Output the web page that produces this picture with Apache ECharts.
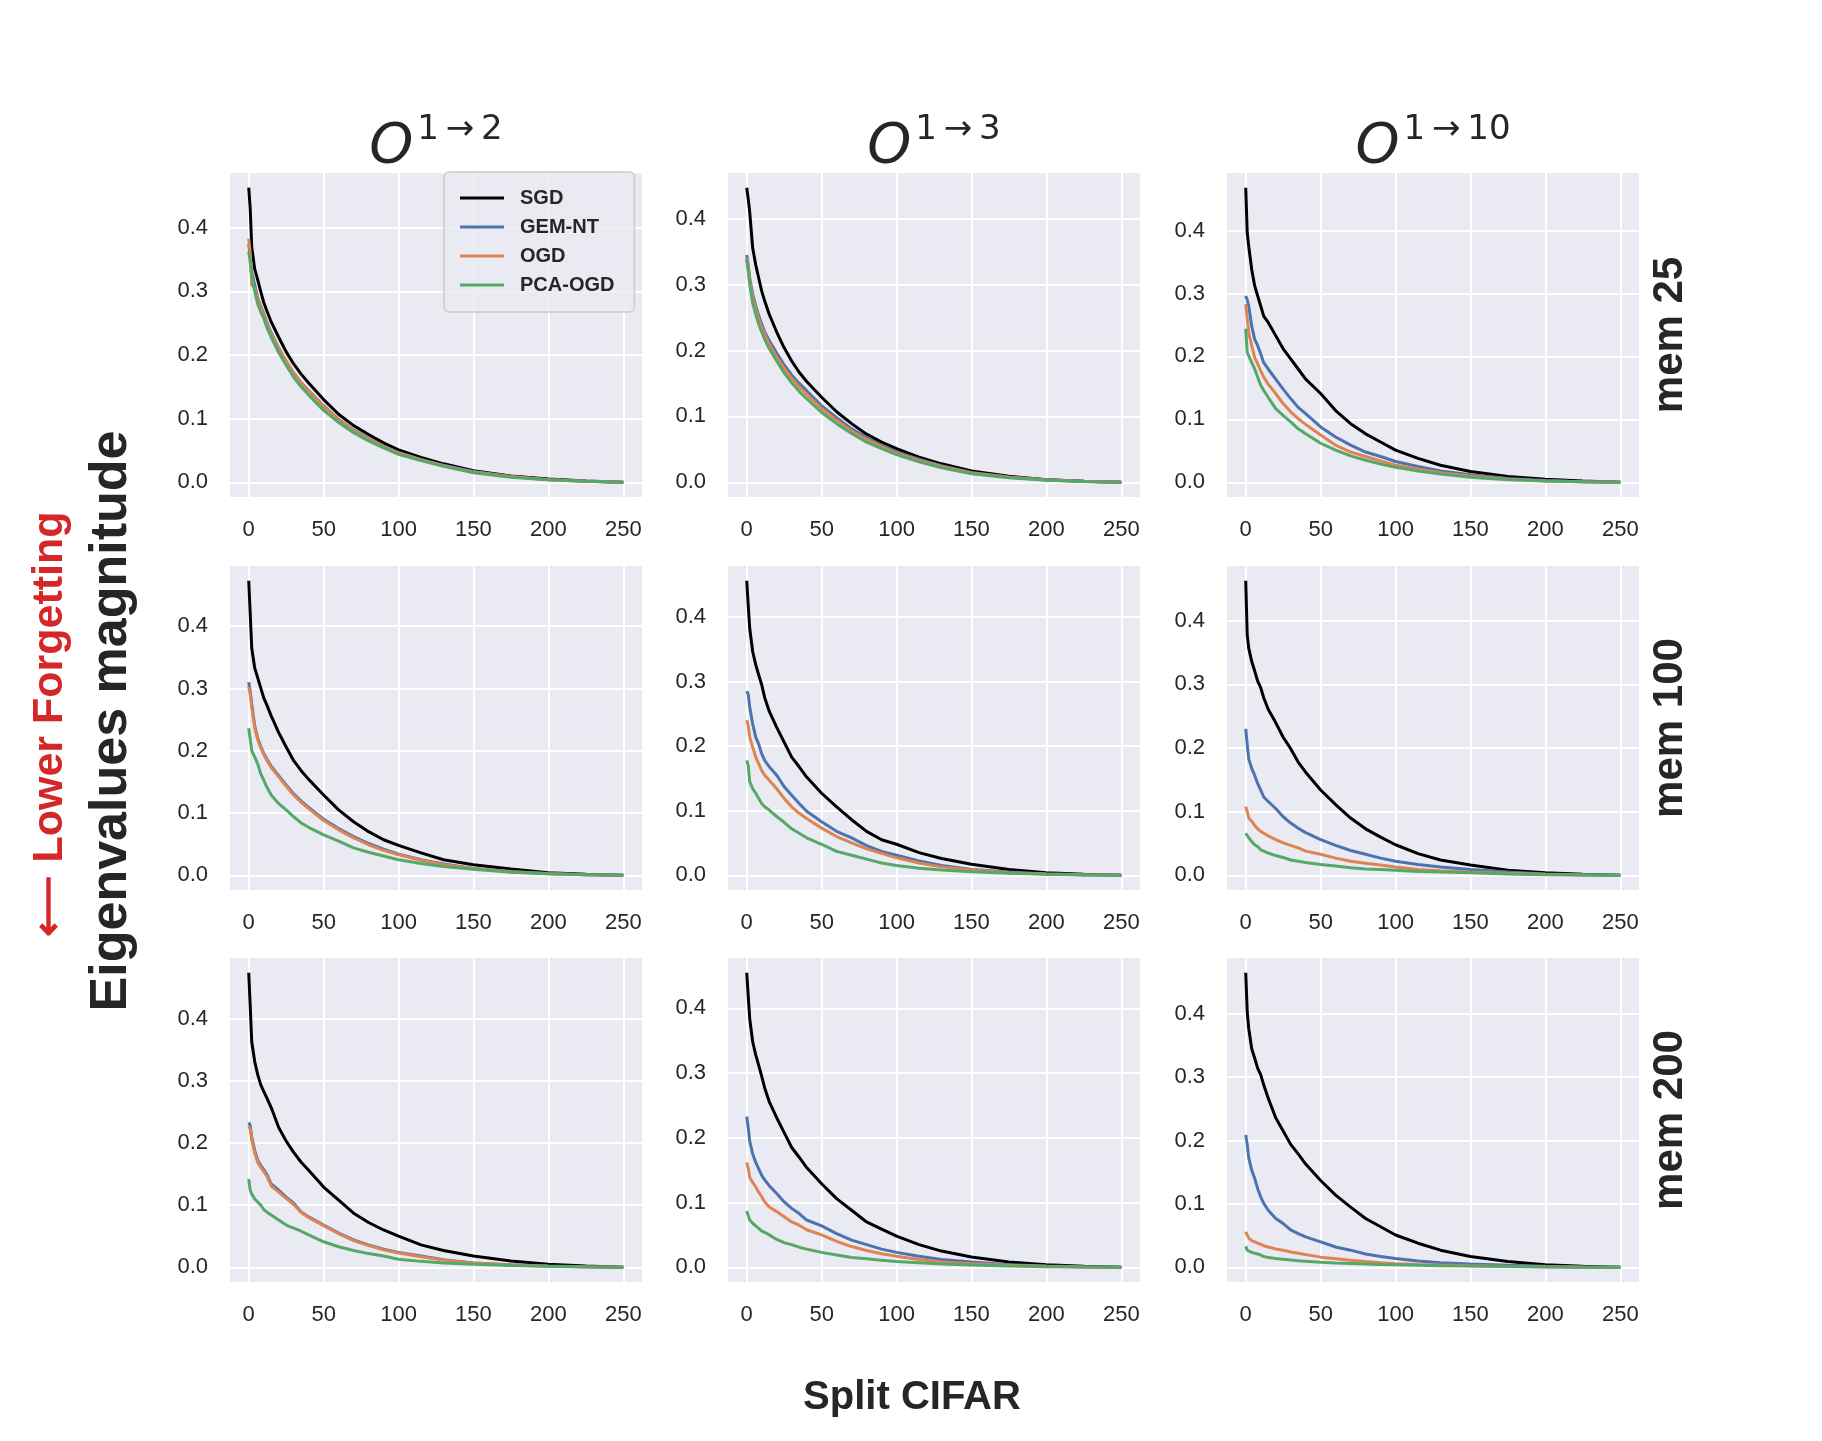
<!DOCTYPE html>
<html>
<head>
<meta charset="utf-8">
<script src="https://cdn.jsdelivr.net/npm/echarts@6.0.0/dist/echarts.min.js"></script>
<style>
html, body { margin: 0; padding: 0; background: #ffffff; }
#main { width: 1822px; height: 1441px; }
</style>
</head>
<body>
<div id="main"></div>
<script>
var steps = [0, 1, 2, 4, 6, 8, 10, 12, 15, 20, 25, 30, 35, 40, 50, 60, 70, 80, 90, 100, 115, 130, 150, 175, 200, 225, 250];

var seriesNames = ['SGD', 'GEM-NT', 'OGD', 'PCA-OGD'];
var seriesColors = ['#000000', '#4c72b0', '#dd8452', '#55a868'];
var colTitles = ['1\u2009→\u20092', '1\u2009→\u20093', '1\u2009→\u200910'];
var rowLabels = ['mem 25', 'mem 100', 'mem 200'];
var xTicks = [0, 50, 100, 150, 200, 250];
var yTicks = [0, 0.1, 0.2, 0.3, 0.4];

// mem 25
var m25_o2_sgd = [0.463, 0.43, 0.37, 0.335, 0.318, 0.3, 0.283, 0.27, 0.252, 0.228, 0.205, 0.186, 0.17, 0.156, 0.13, 0.107, 0.089, 0.075, 0.062, 0.051, 0.039, 0.029, 0.018, 0.01, 0.005, 0.002, 0];
var m25_o2_gem = [0.375, 0.355, 0.33, 0.31, 0.29, 0.277, 0.265, 0.252, 0.235, 0.211, 0.19, 0.172, 0.157, 0.144, 0.12, 0.099, 0.082, 0.069, 0.057, 0.047, 0.036, 0.027, 0.017, 0.009, 0.004, 0.0015, 0];
var m25_o2_ogd = [0.383, 0.36, 0.31, 0.305, 0.288, 0.275, 0.263, 0.25, 0.233, 0.21, 0.19, 0.171, 0.156, 0.143, 0.119, 0.098, 0.081, 0.068, 0.056, 0.046, 0.035, 0.026, 0.016, 0.009, 0.004, 0.0015, 0];
var m25_o2_pca = [0.363, 0.345, 0.325, 0.3, 0.28, 0.268, 0.258, 0.244, 0.228, 0.204, 0.184, 0.165, 0.15, 0.137, 0.113, 0.094, 0.078, 0.065, 0.054, 0.044, 0.034, 0.025, 0.015, 0.008, 0.004, 0.0015, 0];

var m25_o3_sgd = [0.447, 0.43, 0.41, 0.355, 0.33, 0.31, 0.29, 0.275, 0.255, 0.228, 0.204, 0.184, 0.167, 0.153, 0.129, 0.107, 0.089, 0.073, 0.061, 0.051, 0.038, 0.028, 0.017, 0.009, 0.004, 0.0015, 0];
var m25_o3_gem = [0.345, 0.33, 0.31, 0.285, 0.268, 0.253, 0.24, 0.228, 0.215, 0.196, 0.178, 0.163, 0.15, 0.139, 0.116, 0.098, 0.081, 0.068, 0.056, 0.046, 0.035, 0.025, 0.015, 0.008, 0.004, 0.0015, 0];
var m25_o3_ogd = [0.34, 0.325, 0.305, 0.28, 0.263, 0.248, 0.235, 0.224, 0.21, 0.19, 0.173, 0.158, 0.145, 0.134, 0.112, 0.094, 0.078, 0.065, 0.054, 0.044, 0.033, 0.024, 0.014, 0.0075, 0.0035, 0.0013, 0];
var m25_o3_pca = [0.338, 0.32, 0.3, 0.272, 0.255, 0.24, 0.228, 0.217, 0.203, 0.184, 0.166, 0.151, 0.138, 0.127, 0.106, 0.089, 0.074, 0.061, 0.051, 0.042, 0.031, 0.022, 0.013, 0.007, 0.003, 0.001, 0];

var m25_o10_sgd = [0.468, 0.396, 0.375, 0.338, 0.312, 0.296, 0.28, 0.264, 0.254, 0.233, 0.212, 0.196, 0.18, 0.164, 0.141, 0.114, 0.093, 0.077, 0.064, 0.051, 0.038, 0.027, 0.017, 0.009, 0.005, 0.002, 0];
var m25_o10_gem = [0.296, 0.29, 0.28, 0.248, 0.227, 0.217, 0.204, 0.19, 0.18, 0.164, 0.148, 0.133, 0.119, 0.109, 0.088, 0.072, 0.059, 0.048, 0.041, 0.033, 0.025, 0.018, 0.012, 0.006, 0.003, 0.001, 0];
var m25_o10_ogd = [0.283, 0.26, 0.238, 0.217, 0.198, 0.188, 0.177, 0.167, 0.156, 0.141, 0.125, 0.112, 0.101, 0.092, 0.075, 0.059, 0.048, 0.041, 0.034, 0.027, 0.021, 0.015, 0.01, 0.005, 0.002, 0.001, 0];
var m25_o10_pca = [0.244, 0.206, 0.201, 0.19, 0.18, 0.167, 0.154, 0.146, 0.135, 0.117, 0.106, 0.096, 0.085, 0.077, 0.062, 0.051, 0.042, 0.035, 0.029, 0.024, 0.018, 0.013, 0.008, 0.004, 0.002, 0.001, 0];

// mem 100
var m100_o2_sgd = [0.473, 0.42, 0.365, 0.333, 0.317, 0.301, 0.285, 0.274, 0.256, 0.229, 0.206, 0.184, 0.168, 0.154, 0.129, 0.105, 0.086, 0.07, 0.057, 0.048, 0.036, 0.025, 0.017, 0.01, 0.004, 0.0015, 0];
var m100_o2_gem = [0.31, 0.295, 0.275, 0.24, 0.22, 0.207, 0.196, 0.187, 0.175, 0.16, 0.145, 0.131, 0.119, 0.109, 0.09, 0.075, 0.062, 0.051, 0.042, 0.034, 0.025, 0.018, 0.011, 0.006, 0.003, 0.001, 0];
var m100_o2_ogd = [0.303, 0.29, 0.27, 0.237, 0.218, 0.205, 0.194, 0.185, 0.173, 0.158, 0.143, 0.129, 0.117, 0.107, 0.088, 0.073, 0.06, 0.049, 0.04, 0.033, 0.024, 0.017, 0.011, 0.0055, 0.0025, 0.001, 0];
var m100_o2_pca = [0.236, 0.233, 0.2, 0.19, 0.179, 0.163, 0.153, 0.142, 0.129, 0.115, 0.105, 0.094, 0.084, 0.077, 0.065, 0.055, 0.044, 0.037, 0.031, 0.025, 0.019, 0.014, 0.0095, 0.005, 0.0025, 0.001, 0];

var m100_o3_sgd = [0.456, 0.418, 0.382, 0.346, 0.326, 0.31, 0.295, 0.275, 0.254, 0.229, 0.206, 0.183, 0.168, 0.152, 0.127, 0.106, 0.086, 0.068, 0.055, 0.048, 0.035, 0.026, 0.017, 0.009, 0.004, 0.0015, 0];
var m100_o3_gem = [0.285, 0.28, 0.26, 0.234, 0.214, 0.203, 0.188, 0.178, 0.168, 0.155, 0.137, 0.124, 0.111, 0.099, 0.083, 0.068, 0.058, 0.046, 0.037, 0.031, 0.022, 0.015, 0.009, 0.005, 0.002, 0.001, 0];
var m100_o3_ogd = [0.24, 0.232, 0.214, 0.198, 0.183, 0.173, 0.162, 0.155, 0.147, 0.134, 0.119, 0.106, 0.096, 0.088, 0.073, 0.06, 0.05, 0.041, 0.034, 0.027, 0.019, 0.013, 0.008, 0.004, 0.002, 0.0007, 0];
var m100_o3_pca = [0.178, 0.17, 0.145, 0.134, 0.127, 0.119, 0.111, 0.106, 0.101, 0.091, 0.082, 0.072, 0.065, 0.058, 0.048, 0.037, 0.031, 0.025, 0.019, 0.015, 0.011, 0.008, 0.0055, 0.003, 0.0015, 0.0005, 0];

var m100_o10_sgd = [0.463, 0.378, 0.357, 0.336, 0.321, 0.305, 0.295, 0.279, 0.261, 0.24, 0.217, 0.199, 0.178, 0.162, 0.134, 0.111, 0.09, 0.073, 0.06, 0.048, 0.034, 0.024, 0.016, 0.008, 0.004, 0.0015, 0];
var m100_o10_gem = [0.23, 0.206, 0.183, 0.168, 0.157, 0.144, 0.134, 0.123, 0.116, 0.105, 0.092, 0.082, 0.074, 0.067, 0.056, 0.047, 0.039, 0.033, 0.027, 0.022, 0.017, 0.013, 0.009, 0.005, 0.002, 0.001, 0];
var m100_o10_ogd = [0.108, 0.1, 0.09, 0.085, 0.078, 0.073, 0.069, 0.066, 0.062, 0.056, 0.051, 0.047, 0.043, 0.038, 0.033, 0.027, 0.022, 0.019, 0.016, 0.013, 0.009, 0.007, 0.005, 0.003, 0.0015, 0.0005, 0];
var m100_o10_pca = [0.066, 0.063, 0.059, 0.053, 0.048, 0.045, 0.04, 0.038, 0.035, 0.031, 0.028, 0.024, 0.022, 0.02, 0.017, 0.0145, 0.012, 0.01, 0.009, 0.008, 0.006, 0.005, 0.004, 0.002, 0.001, 0.0005, 0];

// mem 200
var m200_o2_sgd = [0.474, 0.42, 0.363, 0.331, 0.31, 0.294, 0.283, 0.273, 0.257, 0.225, 0.203, 0.185, 0.169, 0.156, 0.129, 0.108, 0.087, 0.072, 0.06, 0.05, 0.036, 0.027, 0.018, 0.01, 0.005, 0.002, 0];
var m200_o2_gem = [0.233, 0.228, 0.209, 0.188, 0.172, 0.164, 0.157, 0.15, 0.134, 0.124, 0.113, 0.103, 0.089, 0.081, 0.068, 0.055, 0.044, 0.036, 0.029, 0.024, 0.018, 0.012, 0.007, 0.004, 0.002, 0.001, 0];
var m200_o2_ogd = [0.227, 0.222, 0.205, 0.184, 0.169, 0.161, 0.154, 0.147, 0.131, 0.121, 0.111, 0.101, 0.088, 0.08, 0.067, 0.054, 0.043, 0.035, 0.028, 0.023, 0.017, 0.0115, 0.0068, 0.0038, 0.0018, 0.0008, 0];
var m200_o2_pca = [0.142, 0.124, 0.118, 0.11, 0.105, 0.1, 0.093, 0.089, 0.084, 0.076, 0.068, 0.063, 0.058, 0.052, 0.041, 0.033, 0.027, 0.022, 0.018, 0.013, 0.0095, 0.007, 0.005, 0.003, 0.0015, 0.0005, 0];

var m200_o3_sgd = [0.455, 0.419, 0.384, 0.348, 0.328, 0.312, 0.295, 0.277, 0.256, 0.231, 0.208, 0.185, 0.17, 0.154, 0.129, 0.106, 0.088, 0.07, 0.059, 0.048, 0.035, 0.025, 0.016, 0.008, 0.004, 0.0015, 0];
var m200_o3_gem = [0.233, 0.216, 0.195, 0.175, 0.162, 0.152, 0.142, 0.135, 0.126, 0.114, 0.101, 0.091, 0.083, 0.073, 0.064, 0.052, 0.042, 0.035, 0.028, 0.023, 0.017, 0.012, 0.008, 0.004, 0.002, 0.001, 0];
var m200_o3_ogd = [0.162, 0.153, 0.139, 0.131, 0.124, 0.116, 0.109, 0.101, 0.093, 0.086, 0.078, 0.07, 0.065, 0.058, 0.05, 0.04, 0.032, 0.026, 0.021, 0.017, 0.012, 0.008, 0.0056, 0.003, 0.0015, 0.0005, 0];
var m200_o3_pca = [0.087, 0.084, 0.073, 0.068, 0.064, 0.06, 0.056, 0.054, 0.05, 0.043, 0.038, 0.035, 0.031, 0.028, 0.023, 0.019, 0.015, 0.013, 0.011, 0.009, 0.007, 0.005, 0.0035, 0.002, 0.001, 0.0004, 0];

var m200_o10_sgd = [0.465, 0.403, 0.377, 0.345, 0.33, 0.314, 0.304, 0.288, 0.267, 0.236, 0.215, 0.194, 0.179, 0.163, 0.137, 0.114, 0.095, 0.077, 0.064, 0.051, 0.038, 0.027, 0.017, 0.009, 0.004, 0.0015, 0];
var m200_o10_gem = [0.209, 0.194, 0.173, 0.153, 0.14, 0.124, 0.111, 0.101, 0.09, 0.077, 0.069, 0.059, 0.053, 0.048, 0.04, 0.032, 0.027, 0.021, 0.017, 0.014, 0.01, 0.0073, 0.005, 0.003, 0.0015, 0.0005, 0];
var m200_o10_ogd = [0.056, 0.051, 0.046, 0.042, 0.04, 0.038, 0.036, 0.034, 0.032, 0.029, 0.027, 0.024, 0.022, 0.02, 0.016, 0.0135, 0.011, 0.009, 0.0073, 0.0057, 0.0045, 0.0035, 0.0025, 0.0015, 0.0008, 0.0003, 0];
var m200_o10_pca = [0.033, 0.027, 0.025, 0.0235, 0.022, 0.021, 0.019, 0.017, 0.0156, 0.014, 0.0125, 0.0115, 0.0104, 0.0094, 0.0078, 0.0068, 0.006, 0.0052, 0.0045, 0.004, 0.0032, 0.0026, 0.0019, 0.0012, 0.0006, 0.0002, 0];

// rows = memory size, columns = task pair
var panels = [
    [[m25_o2_sgd, m25_o2_gem, m25_o2_ogd, m25_o2_pca],
     [m25_o3_sgd, m25_o3_gem, m25_o3_ogd, m25_o3_pca],
     [m25_o10_sgd, m25_o10_gem, m25_o10_ogd, m25_o10_pca]],
    [[m100_o2_sgd, m100_o2_gem, m100_o2_ogd, m100_o2_pca],
     [m100_o3_sgd, m100_o3_gem, m100_o3_ogd, m100_o3_pca],
     [m100_o10_sgd, m100_o10_gem, m100_o10_ogd, m100_o10_pca]],
    [[m200_o2_sgd, m200_o2_gem, m200_o2_ogd, m200_o2_pca],
     [m200_o3_sgd, m200_o3_gem, m200_o3_ogd, m200_o3_pca],
     [m200_o10_sgd, m200_o10_gem, m200_o10_ogd, m200_o10_pca]]
];

var gridLeft = [230, 728, 1227];
var gridTop = [173, 566, 958];
var gridW = 412, gridH = 324;
var textColor = '#262626';
var sans = 'Liberation Sans, Arial, sans-serif';

var myChart = echarts.init(document.getElementById('main'));

var grids = [], xAxes = [], yAxes = [], series = [];
for (var r = 0; r < 3; r++) {
    for (var c = 0; c < 3; c++) {
        var idx = r * 3 + c;
        var lines = panels[r][c];
        var peak = 0;
        lines.forEach(function (arr) { peak = Math.max(peak, Math.max.apply(null, arr)); });
        grids.push({
            left: gridLeft[c], top: gridTop[r], width: gridW, height: gridH,
            show: true, backgroundColor: '#eaeaf2', borderWidth: 0
        });
        xAxes.push({
            type: 'value', gridIndex: idx, min: -12.5, max: 262.5,
            axisLine: { show: false },
            axisTick: { show: false, customValues: xTicks },
            axisLabel: { customValues: xTicks, color: textColor, fontSize: 22, fontFamily: sans, margin: 22 },
            splitLine: { show: true, lineStyle: { color: '#ffffff', width: 2 } }
        });
        yAxes.push({
            type: 'value', gridIndex: idx, min: -0.05 * peak, max: 1.05 * peak,
            axisLine: { show: false },
            axisTick: { show: false, customValues: yTicks },
            axisLabel: {
                customValues: yTicks, color: textColor, fontSize: 22, fontFamily: sans, margin: 22,
                formatter: function (v) { return v.toFixed(1); }
            },
            splitLine: { show: true, lineStyle: { color: '#ffffff', width: 2 } }
        });
        lines.forEach(function (arr, s) {
            series.push({
                type: 'line',
                name: seriesNames[s],
                xAxisIndex: idx,
                yAxisIndex: idx,
                data: steps.map(function (x, k) { return [x, arr[k]]; }),
                showSymbol: false,
                symbol: 'none',
                lineStyle: { width: 3, color: seriesColors[s] },
                itemStyle: { color: seriesColors[s] },
                emphasis: { disabled: true },
                z: 2 + s
            });
        });
    }
}

var graphics = [];
colTitles.forEach(function (t, c) {
    graphics.push({
        type: 'text',
        x: gridLeft[c] + gridW / 2,
        y: 113,
        style: {
            text: '{o|O}{s|' + t + '}',
            align: 'center',
            verticalAlign: 'top',
            fill: textColor,
            rich: {
                o: { fontSize: 56, fontStyle: 'italic', fontFamily: 'DejaVu Sans', lineHeight: 68, verticalAlign: 'middle', fill: textColor },
                s: { fontSize: 34, fontFamily: 'DejaVu Sans', lineHeight: 34, verticalAlign: 'top', fill: textColor, padding: [0, 0, 0, 4] }
            }
        }
    });
});
rowLabels.forEach(function (t, r) {
    graphics.push({
        type: 'text',
        x: 1670,
        y: gridTop[r] + gridH / 2,
        rotation: Math.PI / 2,
        style: {
            text: t, align: 'center', verticalAlign: 'middle',
            font: 'bold 42px ' + sans, fill: textColor
        }
    });
});
graphics.push({
    type: 'text', x: 112, y: 721, rotation: Math.PI / 2,
    style: { text: 'Eigenvalues magnitude', align: 'center', verticalAlign: 'middle', font: 'bold 52px ' + sans, fill: textColor }
});
graphics.push({
    type: 'text', x: 50, y: 724, rotation: Math.PI / 2,
    style: { text: '⟵ Lower Forgetting', align: 'center', verticalAlign: 'middle', font: 'bold 43px ' + sans, fill: '#d62728' }
});
graphics.push({
    type: 'text', x: 912, y: 1398,
    style: { text: 'Split CIFAR', align: 'center', verticalAlign: 'middle', font: 'bold 40px ' + sans, fill: textColor }
});

var option = {
    animation: false,
    backgroundColor: '#ffffff',
    legend: {
        data: seriesNames,
        orient: 'vertical',
        left: 444,
        top: 172,
        icon: 'rect',
        itemWidth: 44,
        itemHeight: 3,
        itemGap: 9,
        padding: [16, 20, 17, 16],
        backgroundColor: 'rgba(234,234,242,0.8)',
        borderColor: '#cccccc',
        borderWidth: 1.5,
        borderRadius: 5,
        textStyle: { fontSize: 20, fontWeight: 'bold', color: textColor, fontFamily: sans, lineHeight: 20, padding: [0, 0, 0, 11] }
    },
    grid: grids,
    xAxis: xAxes,
    yAxis: yAxes,
    series: series,
    graphic: graphics
};
myChart.setOption(option);
</script>
</body>
</html>
